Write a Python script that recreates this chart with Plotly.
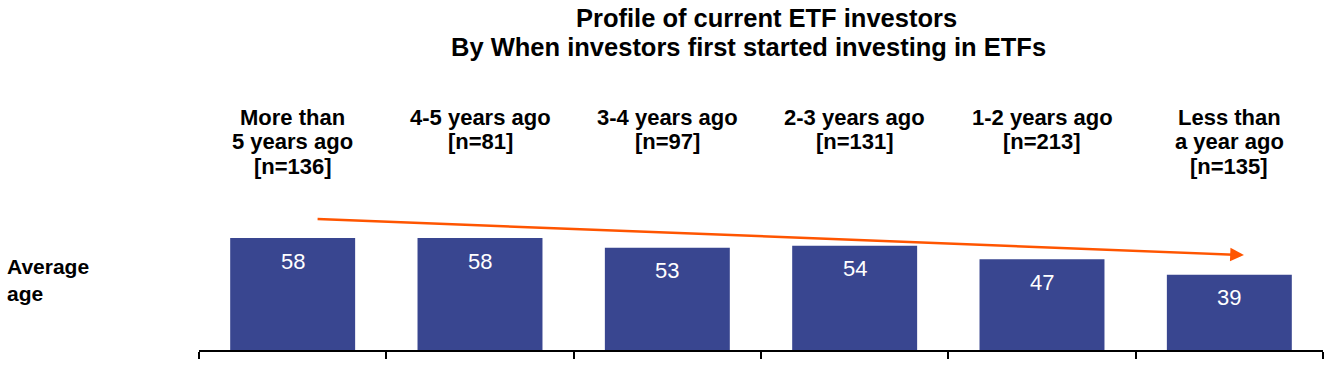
import plotly.graph_objects as go

# ---- data ----
categories = ["More than 5 years ago", "4-5 years ago", "3-4 years ago",
              "2-3 years ago", "1-2 years ago", "Less than a year ago"]
label_lines = [["More than", "5 years ago", "[n=136]"],
               ["4-5 years ago", "[n=81]"],
               ["3-4 years ago", "[n=97]"],
               ["2-3 years ago", "[n=131]"],
               ["1-2 years ago", "[n=213]"],
               ["Less than", "a year ago", "[n=135]"]]
average_age = [58, 58, 53, 54, 47, 39]
title_lines = ["Profile of current ETF investors",
               "By When investors first started investing in ETFs"]
row_label = ["Average", "age"]

# ---- layout constants (pixels, page coordinates; body margin removed) ----
W, H = 1332, 367
PLOT_LEFT, PLOT_RIGHT, PLOT_TOP, PLOT_BOTTOM = 199, 1323, 0, 350
ML, MR = PLOT_LEFT, W - PLOT_RIGHT
MT, MB = PLOT_TOP, H - PLOT_BOTTOM
PW, PH = W - ML - MR, H - MT - MB
PX_PER_UNIT = 1.93
YMAX = PH / PX_PER_UNIT
BAR_COLOR = "#394690"
ARROW_COLOR = "#FF5500"
FONT = "Liberation Sans, Arial, sans-serif"


def py(ypx):
    return (PLOT_BOTTOM - ypx) / PH


def px(xpx):
    return (xpx - PLOT_LEFT) / PW


fig = go.Figure(go.Bar(
    x=categories, y=average_age,
    marker=dict(color=BAR_COLOR, line=dict(width=0)),
    hoverinfo="x+y",
))

ann = []
# value labels inside bars
for c, v in zip(categories, average_age):
    ann.append(dict(x=c, y=v, xref="x", yref="y", text=str(v), showarrow=False,
                    yanchor="middle", yshift=-23,
                    font=dict(family=FONT, size=22, color="white")))
# category header labels
for c, lines in zip(categories, label_lines):
    for i, t in enumerate(lines):
        ann.append(dict(x=c, y=py(117 + 24.5 * i), xref="x", yref="paper", text=f"<b>{t}</b>",
                        showarrow=False, yanchor="middle",
                        font=dict(family=FONT, size=22, color="black")))
# title
for t, xc, yc in zip(title_lines, [766, 748], [18, 47]):
    ann.append(dict(x=px(xc), y=py(yc), xref="paper", yref="paper", text=f"<b>{t}</b>",
                    showarrow=False, yanchor="middle", xanchor="center",
                    font=dict(family=FONT, size=25.5, color="black")))
# row label
for t, yc in zip(row_label, [266, 293]):
    ann.append(dict(x=px(5), y=py(yc), xref="paper", yref="paper", text=f"<b>{t}</b>",
                    showarrow=False, yanchor="middle", xanchor="left",
                    font=dict(family=FONT, size=21, color="black")))
# trend arrow
ann.append(dict(x=5.078, y=49.2, ax=0.125, ay=67.9, xref="x", yref="y", axref="x", ayref="y",
                text="", showarrow=True, arrowhead=2, arrowsize=1.1, arrowwidth=2.5,
                arrowcolor=ARROW_COLOR, standoff=0, startstandoff=0))

fig.update_layout(
    width=W, height=H,
    margin=dict(l=ML, r=MR, t=MT, b=MB, pad=0),
    paper_bgcolor="white", plot_bgcolor="white",
    showlegend=False,
    bargap=0.333,
    annotations=ann,
    xaxis=dict(type="category", range=[-0.5, 5.5], showticklabels=False,
               tickson="boundaries", ticks="outside", ticklen=7, tickwidth=2,
               tickcolor="black", showline=True, linewidth=2, linecolor="black",
               showgrid=False, zeroline=False, fixedrange=True),
    yaxis=dict(range=[0, YMAX], visible=False, fixedrange=True),
)

fig.write_html("out.html",
               config={"displayModeBar": False},
               post_script="document.body.style.margin='0';document.body.style.overflow='hidden';")
